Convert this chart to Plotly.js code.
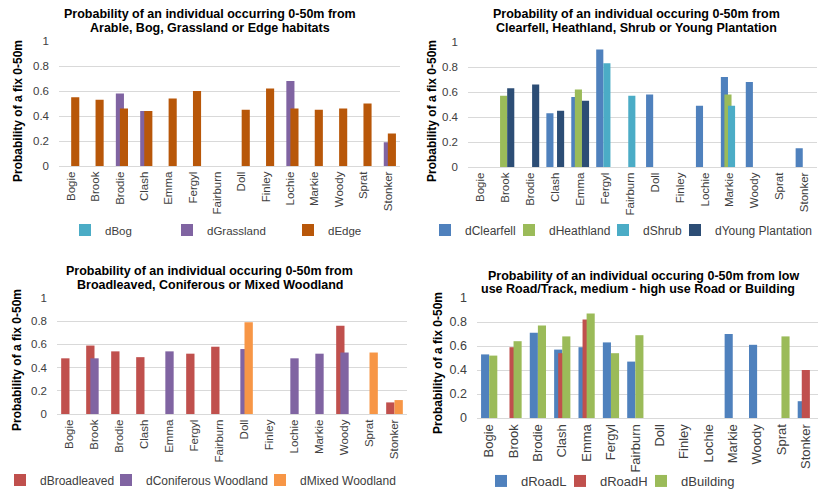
<!DOCTYPE html>
<html>
<head>
<meta charset="utf-8">
<script src="https://cdn.plot.ly/plotly-3.0.1.min.js"></script>
<style>html,body{margin:0;padding:0;background:#fff;}#chart{width:830px;height:496px;}</style>
</head>
<body>
<div id="chart"></div>
<script>
const categories = ['Bogie','Brook','Brodie','Clash','Emma','Fergyl','Fairburn','Doll','Finley','Lochie','Markie','Woody','Sprat','Stonker'];

// Panel 1: Arable, Bog, Grassland or Edge
const dBog       = [null,null,null,null,null,null,null,null,null,null,null,null,null,null];
const dGrassland = [null,null,0.58,0.44,null,null,null,null,null,0.68,null,null,null,0.19];
const dEdge      = [0.55,0.53,0.46,0.44,0.54,0.60,null,0.45,0.62,0.46,0.45,0.46,0.50,0.26];

// Panel 2: Clearfell, Heathland, Shrub or Young Plantation
const dClearfell        = [null,null,null,0.43,0.56,0.94,null,0.58,null,0.49,0.72,0.68,null,0.15];
const dHeathland        = [null,0.57,null,null,0.62,null,null,null,null,null,0.58,null,null,null];
const dShrub            = [null,null,null,null,null,0.83,0.57,null,null,null,0.49,null,null,null];
const dYoungPlantation  = [null,0.63,0.66,0.45,0.53,null,null,null,null,null,null,null,null,null];

// Panel 3: Broadleaved, Coniferous or Mixed Woodland
const dBroadleaved        = [0.48,0.59,0.54,0.49,null,0.52,0.58,null,null,null,null,0.76,null,0.10];
const dConiferousWoodland = [null,0.48,null,null,0.54,null,null,0.56,null,0.48,0.52,0.53,null,null];
const dMixedWoodland      = [null,null,null,null,null,null,null,0.79,null,null,null,null,0.53,0.12];

// Panel 4: Roads and Buildings
const dRoadL    = [0.53,null,0.71,0.57,0.59,0.63,0.47,null,null,null,0.70,0.61,null,0.14];
const dRoadH    = [null,0.59,null,0.54,0.82,null,null,null,null,null,null,null,null,0.40];
const dBuilding = [0.52,0.64,0.77,0.68,0.87,0.54,0.69,null,null,null,null,null,0.68,null];

const FONT = 'Liberation Sans, Arial, sans-serif';
const W3 = 1/3, W4 = 1/3.5;

function bar(name, y, color, xa, ya, leg, off, w, lw) {
  const t = {type:'bar', name:name, x:categories, y:y, xaxis:xa, yaxis:ya, legend:leg,
    offset:off, width:w, marker:{color:color, line:{width:0}}, hoverinfo:'x+y+name'};
  if (lw) t.legendwidth = lw;
  return t;
}

const traces = [
  bar('dBog', dBog, '#4BACC6', 'x', 'y', 'legend', -W3, W3, 57),
  bar('dGrassland', dGrassland, '#8064A2', 'x', 'y', 'legend', -W3/2, W3, 76),
  bar('dEdge', dEdge, '#B85709', 'x', 'y', 'legend', 0, W3, 34),

  bar('dClearfell', dClearfell, '#4F81BD', 'x2', 'y2', 'legend2', -1.25*W4, W4, 39),
  bar('dHeathland', dHeathland, '#9BBB59', 'x2', 'y2', 'legend2', -0.75*W4, W4, 49),
  bar('dShrub', dShrub, '#4BACC6', 'x2', 'y2', 'legend2', -0.25*W4, W4, 27),
  bar('dYoung Plantation', dYoungPlantation, '#2C4D75', 'x2', 'y2', 'legend2', 0.25*W4, W4, 98),

  bar('dBroadleaved', dBroadleaved, '#C0504D', 'x3', 'y3', 'legend3', -W3, W3, 61),
  bar('dConiferous Woodland', dConiferousWoodland, '#8064A2', 'x3', 'y3', 'legend3', -W3/2, W3, 109),
  bar('dMixed Woodland', dMixedWoodland, '#F79646', 'x3', 'y3', 'legend3', 0, W3, 105),

  bar('dRoadL', dRoadL, '#4F81BD', 'x4', 'y4', 'legend4', -W3, W3, 34),
  bar('dRoadH', dRoadH, '#C0504D', 'x4', 'y4', 'legend4', -W3/2, W3, 36),
  bar('dBuilding', dBuilding, '#9BBB59', 'x4', 'y4', 'legend4', 0, W3, 54)
];

const PW = 830, PH = 496;
const px = v => v / PW;
const py = v => 1 - v / PH;

function xax(d0, d1, anchor, fs) {
  return {domain:[px(d0), px(d1)], anchor:anchor, type:'category', tickangle:-90,
    showline:true, linecolor:'#D9D9D9', linewidth:1, showgrid:false, ticks:'',
    tickfont:{family:FONT, size:fs, color:'#404040'}, fixedrange:true};
}
function yax(y0, y1, anchor, fs) {
  return {domain:[py(y0), py(y1)], anchor:anchor, range:[0,1], dtick:0.2, tick0:0,
    showgrid:true, gridcolor:'#D9D9D9', gridwidth:1, zeroline:false, showline:false, ticks:'',
    ticklabelstandoff:9, tickfont:{family:FONT, size:fs, color:'#404040'}, fixedrange:true};
}
function leg(x, y, size) {
  return {orientation:'h', x:px(x), y:py(y), xanchor:'left', yanchor:'middle',
    font:{family:FONT, size:size, color:'#404040'}, bgcolor:'rgba(0,0,0,0)', borderwidth:0,
    tracegroupgap:0, itemclick:false, itemdoubleclick:false};
}
function title(text, x, y) {
  return {text:'<b>'+text+'</b>', x:px(x), y:py(y), xref:'paper', yref:'paper',
    xanchor:'center', yanchor:'middle', showarrow:false,
    font:{family:FONT, size:12.5, color:'#000000'}};
}
function ytitle(x, y) {
  return {text:'<b>Probability of a fix 0-50m</b>', x:px(x), y:py(y), xref:'paper', yref:'paper',
    xanchor:'center', yanchor:'middle', showarrow:false, textangle:-90,
    font:{family:FONT, size:12, color:'#000000'}};
}

const layout = {
  width:PW, height:PH, margin:{l:0,r:0,t:0,b:0},
  paper_bgcolor:'#ffffff', plot_bgcolor:'rgba(0,0,0,0)',
  barmode:'overlay', showlegend:true,
  font:{family:FONT},
  xaxis: xax(59, 400, 'y', 11.5),   yaxis: yax(166, 41, 'x', 11.5),
  xaxis2: xax(468, 817, 'y2', 11.5), yaxis2: yax(167, 42, 'x2', 11.5),
  xaxis3: xax(57, 407, 'y3', 11.5), yaxis3: yax(414, 298, 'x3', 11.5),
  xaxis4: xax(477, 818, 'y4', 13), yaxis4: yax(418, 298, 'x4', 12.5),
  legend: leg(65, 230, 11.5),
  legend2: leg(425, 230, 12),
  legend3: leg(0, 480, 12),
  legend4: leg(481, 481, 13),
  annotations: [
    title('Probability of an individual occurring 0-50m from', 210, 14),
    title('Arable, Bog, Grassland or Edge habitats', 210, 28),
    title('Probability of an individual occuring 0-50m from', 636, 14),
    title('Clearfell, Heathland, Shrub or Young Plantation', 636, 28),
    title('Probability of an individual occuring 0-50m from', 210, 271),
    title('Broadleaved, Coniferous or Mixed Woodland', 210, 285),
    title('Probability of an individual occuring 0-50m from low', 643, 276),
    title('use Road/Track, medium - high use Road or Building', 638, 289),
    ytitle(18, 111),
    ytitle(432, 111),
    ytitle(17, 360),
    ytitle(438, 363)
  ]
};

Plotly.newPlot('chart', traces, layout, {staticPlot:true, displayModeBar:false});
</script>
</body>
</html>
